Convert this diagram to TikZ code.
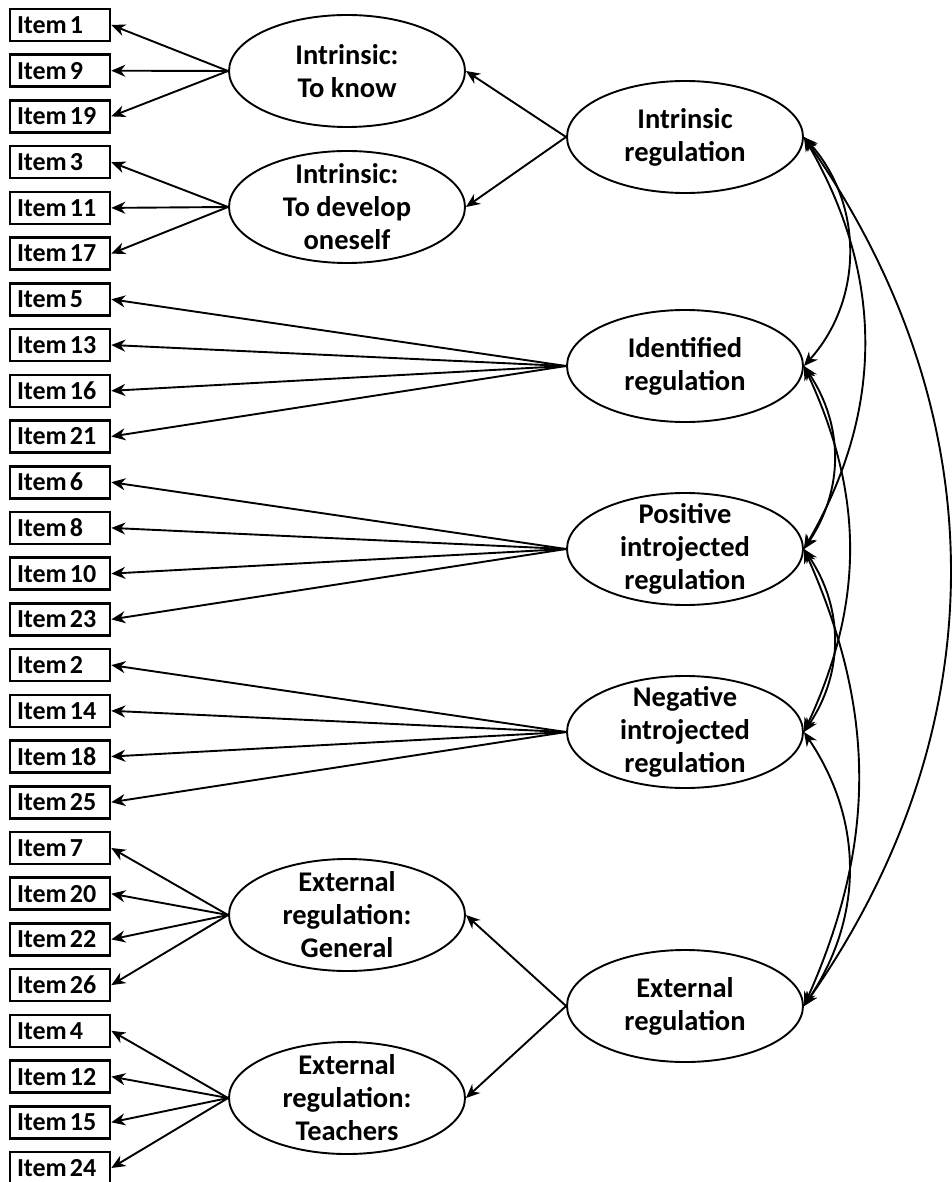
\documentclass[tikz,border=0pt]{standalone}
\usepackage{fontspec}
\setmainfont{Carlito}
\usetikzlibrary{shapes.geometric,arrows.meta}
\tikzset{
  item/.style={draw, line width=2.6pt, minimum width=100pt, minimum height=32pt,
    text width=86pt, align=left, inner xsep=7pt, inner ysep=0pt,
    font=\fontsize{26}{30}\selectfont\bfseries,
    execute at begin node={\spaceskip=3pt\relax}},
  factor/.style={ellipse, draw, line width=1.9pt, minimum width=236pt,
    minimum height=112pt, inner sep=-8pt, align=center,
    font=\fontsize{28.5}{33}\selectfont\bfseries},
  tip/.tip={Stealth[length=14pt,width=12pt,inset=4.5pt]},
  load/.style={-tip, line width=1.9pt},
  cov/.style={tip-tip, line width=1.9pt}
}
\begin{document}
\begin{tikzpicture}[x=1pt,y=-1pt]
      \useasboundingbox (0,0) rectangle (952,1182);
      \draw
        (60,25.0) node[item] (i1){Item 1}
        (60,70.7) node[item] (i9){Item 9}
        (60,116.4) node[item] (i19){Item 19}
        (60,162.2) node[item] (i3){Item 3}
        (60,207.9) node[item] (i11){Item 11}
        (60,253.6) node[item] (i17){Item 17}
        (60,299.3) node[item] (i5){Item 5}
        (60,345.0) node[item] (i13){Item 13}
        (60,390.8) node[item] (i16){Item 16}
        (60,436.5) node[item] (i21){Item 21}
        (60,482.2) node[item] (i6){Item 6}
        (60,527.9) node[item] (i8){Item 8}
        (60,573.6) node[item] (i10){Item 10}
        (60,619.4) node[item] (i23){Item 23}
        (60,665.1) node[item] (i2){Item 2}
        (60,710.8) node[item] (i14){Item 14}
        (60,756.5) node[item] (i18){Item 18}
        (60,802.2) node[item] (i25){Item 25}
        (60,848.0) node[item] (i7){Item 7}
        (60,893.7) node[item] (i20){Item 20}
        (60,939.4) node[item] (i22){Item 22}
        (60,985.1) node[item] (i26){Item 26}
        (60,1030.8) node[item] (i4){Item 4}
        (60,1076.6) node[item] (i12){Item 12}
        (60,1122.3) node[item] (i15){Item 15}
        (60,1168.0) node[item] (i24){Item 24};
      \draw
        (347,71) node[factor] (know){Intrinsic:\\To know}
        (347,207) node[factor] (develop){Intrinsic:\\To develop\\oneself}
        (347,915) node[factor] (extgen){External\\regulation:\\General}
        (347,1098) node[factor] (extteach){External\\regulation:\\Teachers}
        (685,137) node[factor] (intr){Intrinsic\\regulation}
        (685,366) node[factor] (ident){Identified\\regulation}
        (685,549) node[factor] (posi){Positive\\introjected\\regulation}
        (685,732) node[factor] (nega){Negative\\introjected\\regulation}
        (685,1006) node[factor] (extr){External\\regulation};
      % first order loadings
      \begin{scope}[load]
        \draw (know.west) to (i1.east);
        \draw (know.west) to (i9.east);
        \draw (know.west) to (i19.east);
        \draw (develop.west) to (i3.east);
        \draw (develop.west) to (i11.east);
        \draw (develop.west) to (i17.east);
        \draw (ident.west) to (i5.east);
        \draw (ident.west) to (i13.east);
        \draw (ident.west) to (i16.east);
        \draw (ident.west) to (i21.east);
        \draw (posi.west) to (i6.east);
        \draw (posi.west) to (i8.east);
        \draw (posi.west) to (i10.east);
        \draw (posi.west) to (i23.east);
        \draw (nega.west) to (i2.east);
        \draw (nega.west) to (i14.east);
        \draw (nega.west) to (i18.east);
        \draw (nega.west) to (i25.east);
        \draw (extgen.west) to (i7.east);
        \draw (extgen.west) to (i20.east);
        \draw (extgen.west) to (i22.east);
        \draw (extgen.west) to (i26.east);
        \draw (extteach.west) to (i4.east);
        \draw (extteach.west) to (i12.east);
        \draw (extteach.west) to (i15.east);
        \draw (extteach.west) to (i24.east);
        % second order
        \draw (intr.west) to (know.east);
        \draw (intr.west) to (develop.east);
        \draw (extr.west) to (extgen.east);
        \draw (extr.west) to (extteach.east);
      \end{scope}
      % covariances
      \begin{scope}[cov]
        \draw (intr.east) to[bend left=42] (ident.east);
        \draw (intr.east) to[bend left=30] (posi.east);
        \draw (intr.east) to[bend left=35] (extr.east);
        \draw (ident.east) to[bend left=34] (posi.east);
        \draw (ident.east) to[bend left=25] (nega.east);
        \draw (posi.east) to[bend left=34] (nega.east);
        \draw (posi.east) to[bend left=24] (extr.east);
        \draw (nega.east) to[bend left=34] (extr.east);
      \end{scope}
    \end{tikzpicture}
\end{document}
